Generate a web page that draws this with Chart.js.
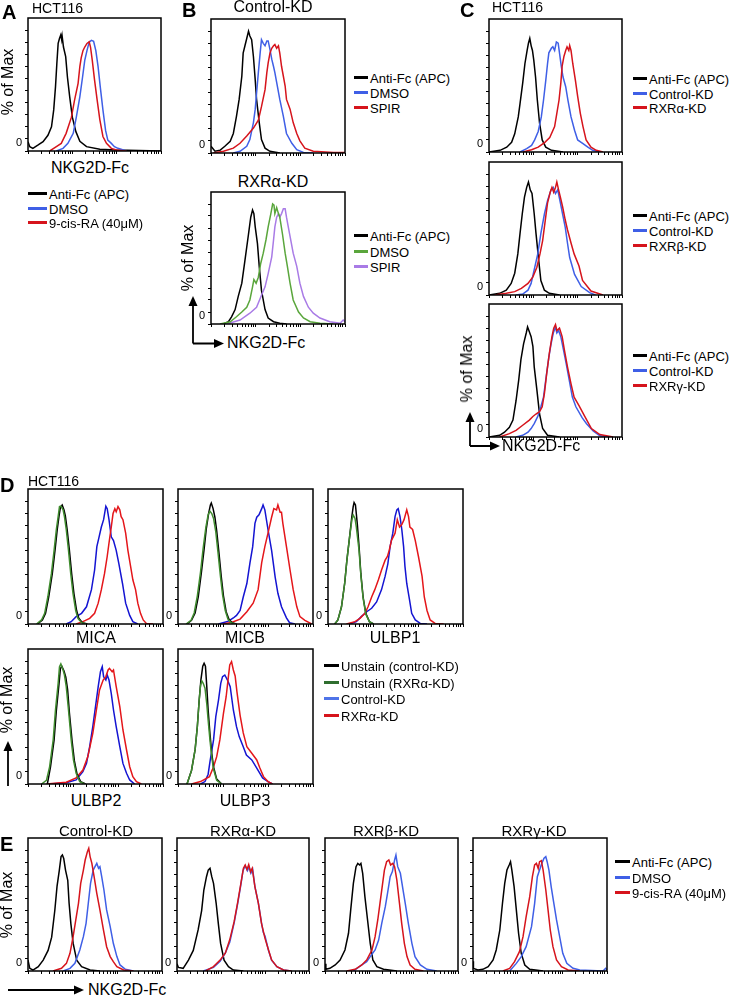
<!DOCTYPE html>
<html>
<head>
<meta charset="utf-8">
<script src="https://cdn.jsdelivr.net/npm/chart.js@4.4.0/dist/chart.umd.min.js"></script>
<style>
  body { margin: 0; background: #fff; font-family: "Liberation Sans", Arial, sans-serif; }
  #fig { position: relative; width: 730px; height: 996px; overflow: hidden; background: #fff; }
  .t { position: absolute; white-space: nowrap; color: #000; line-height: 1; }
  .b { font-weight: bold; }
  canvas { position: absolute; }
</style>
</head>
<body>
<div id="fig"></div>
<script>
// x = log decades of NKG2D-Fc / ligand intensity (0..3), y = % of Max
const yTicks = [0, 10, 20, 30, 40, 50, 60, 70, 80, 90, 100];

// --- panel A (HCT116, 9-cis-RA)
const A_antiFc = [[0,7.7],[0.04,3.6],[0.11,2.2],[0.23,5],[0.34,7.7],[0.45,13],[0.53,20],[0.58,34],[0.62,53],[0.65,72],[0.68,89],[0.71,93],[0.74,96],[0.76,92],[0.77,95],[0.8,86],[0.85,78],[0.89,61],[0.94,45],[1.0,28],[1.08,16],[1.17,8],[1.32,3.6],[1.62,1.4],[1.99,0.8],[3,0]];
const A_dmso = [[0.64,0],[0.79,2.2],[0.9,6.3],[1.02,14.6],[1.09,28],[1.17,45],[1.23,61],[1.28,75],[1.33,83],[1.38,90],[1.43,91.5],[1.48,90.7],[1.53,83],[1.58,70],[1.63,53],[1.69,34],[1.75,17],[1.8,9],[1.88,6.3],[1.95,3.6],[2.03,2.2],[2.22,0]];
const A_cisRA = [[0.49,0],[0.64,3.6],[0.75,6.3],[0.86,14.6],[0.98,28],[1.05,42],[1.13,56],[1.17,70],[1.2,77],[1.24,83],[1.28,86],[1.33,89],[1.38,90.4],[1.41,86],[1.45,75],[1.5,59],[1.56,42],[1.62,26],[1.69,12],[1.77,6.3],[1.88,2.2],[1.99,0.8],[2.22,0]];

// --- panel B (SPIR)
const B1_antiFc = [[0,5.5],[0.09,1.4],[0.2,2.2],[0.31,5.5],[0.43,9.6],[0.5,16],[0.57,30],[0.63,44],[0.69,63],[0.72,82],[0.76,88],[0.8,94],[0.84,100],[0.87,96],[0.91,93],[0.95,79],[0.99,60],[1.02,44],[1.08,25],[1.13,11],[1.21,4],[1.32,1.4],[1.54,0]];
const B1_dmso = [[0.5,0],[0.65,1.4],[0.8,5.5],[0.87,11],[0.95,25],[0.99,36],[1.02,49],[1.06,66],[1.1,82],[1.13,93],[1.17,90],[1.21,88],[1.25,92],[1.28,92],[1.32,85],[1.36,77],[1.4,71],[1.43,66],[1.47,58],[1.54,44],[1.62,30],[1.69,16],[1.81,8],[1.92,2.7],[2.07,0.5],[2.29,0]];
const B1_spir = [[0.05,0],[0.28,1.4],[0.5,4],[0.65,8],[0.8,14],[0.95,20.5],[1.06,27],[1.13,38],[1.21,52],[1.25,66],[1.28,74],[1.32,82],[1.36,86],[1.4,88],[1.43,89],[1.47,86],[1.51,88],[1.54,82],[1.58,71],[1.62,63],[1.66,55],[1.69,44],[1.77,36],[1.84,25],[1.92,16],[1.99,10],[2.1,4],[2.29,1.4],[2.74,0.5],[3,0.5]];
const B2_antiFc = [[0.28,0],[0.39,1.9],[0.46,6],[0.54,12],[0.61,23],[0.69,34],[0.76,53],[0.84,75],[0.89,89],[0.93,95],[0.96,92],[0.99,81],[1.04,67],[1.08,48],[1.13,28],[1.21,12],[1.28,5],[1.4,1.9],[1.54,0.6],[1.69,0]];
const B2_dmso = [[0.2,0],[0.43,1.9],[0.57,6],[0.69,10],[0.8,14],[0.87,20],[0.93,31],[0.96,37],[1.01,34],[1.06,39],[1.11,50],[1.17,59],[1.23,70],[1.28,81],[1.34,92],[1.38,100],[1.41,99],[1.43,92],[1.47,97],[1.51,92],[1.54,89],[1.6,75],[1.66,59],[1.71,48],[1.77,34],[1.84,20],[1.96,10],[2.07,5],[2.22,1.9],[2.44,0.6],[2.74,0]];
const B2_spir = [[0.35,0],[0.65,3.3],[0.87,9],[1.02,14],[1.13,24],[1.21,31],[1.28,42],[1.36,56],[1.4,70],[1.43,81],[1.47,89],[1.51,92],[1.54,89],[1.58,92],[1.62,96],[1.66,96],[1.69,89],[1.73,81],[1.77,73],[1.84,59],[1.92,48],[1.99,34],[2.07,23],[2.18,14],[2.29,9],[2.44,5],[2.66,1.9],[2.89,0.6],[2.96,3.3],[3,1.9]];

// --- panel C (RXR isotype knock-downs)
const C1_antiFc = [[0,0],[0.25,1.4],[0.4,4],[0.51,8],[0.58,15],[0.66,29],[0.7,40],[0.76,57],[0.81,73],[0.86,84],[0.89,90],[0.92,94],[0.95,88],[0.98,84],[1.01,76],[1.05,62],[1.09,43],[1.14,24],[1.2,10],[1.28,4],[1.41,1.4],[1.67,0]];
const C1_ctrl = [[0.7,0],[0.85,2.8],[0.96,5.5],[1.03,10],[1.11,17],[1.18,29],[1.23,43],[1.28,59],[1.32,73],[1.35,82],[1.41,86],[1.44,87],[1.48,84],[1.52,91],[1.56,90],[1.59,82],[1.63,71],[1.67,62],[1.73,54],[1.78,43],[1.85,29],[1.93,18],[2.0,10],[2.12,7],[2.23,4],[2.34,1.4],[2.49,0]];
const C1_rxra = [[0.77,0],[0.96,1.9],[1.11,4],[1.26,8],[1.37,12],[1.48,21],[1.53,32],[1.58,43],[1.62,57],[1.65,71],[1.69,79],[1.73,84],[1.76,87],[1.8,84],[1.82,88],[1.85,84],[1.89,73],[1.95,59],[2.0,46],[2.06,32],[2.12,21],[2.19,10],[2.3,4],[2.42,1.4],[2.57,0]];
const C2_antiFc = [[0,0],[0.24,1.4],[0.39,4],[0.5,9.6],[0.58,18],[0.65,34],[0.7,51],[0.75,67],[0.8,81],[0.85,89],[0.89,93.5],[0.93,87],[0.97,84],[1.02,67],[1.06,51],[1.12,29],[1.17,12],[1.25,4],[1.36,1.4],[1.59,0]];
const C2_ctrl = [[0.61,0],[0.76,0.8],[0.88,4],[0.95,9.6],[1.02,21],[1.1,34],[1.17,51],[1.25,67],[1.32,78],[1.4,87],[1.45,89],[1.5,84],[1.55,87],[1.6,78],[1.66,67],[1.72,56],[1.77,43],[1.82,31],[1.93,17],[2.08,7],[2.27,1.9],[2.4,0]];
const C2_rxrb = [[0.13,0],[0.39,1.4],[0.58,2.8],[0.73,5.5],[0.88,9.6],[0.99,15],[1.08,23],[1.15,34],[1.21,45],[1.27,62],[1.32,76],[1.38,85],[1.42,89],[1.46,85],[1.5,89],[1.53,93.5],[1.57,87],[1.61,81],[1.66,73],[1.72,62],[1.77,54],[1.85,43],[1.92,34],[2.03,24],[2.11,12],[2.3,3.3],[2.57,0]];
const C3_antiFc = [[0,0],[0.24,1.4],[0.35,4],[0.46,8],[0.54,14],[0.61,30],[0.67,47],[0.72,64],[0.78,77],[0.84,86],[0.87,91],[0.91,87],[0.95,83],[0.99,75],[1.02,58],[1.08,39],[1.14,19],[1.21,7],[1.32,1.4],[1.59,0]];
const C3_ctrl = [[0.61,0],[0.76,1.4],[0.88,4],[0.95,7],[1.02,11],[1.1,17],[1.17,25],[1.23,33],[1.29,50],[1.35,66],[1.4,77],[1.45,86],[1.5,91],[1.53,86],[1.57,88],[1.62,83],[1.68,72],[1.74,61],[1.81,47],[1.88,33],[1.96,25],[2.1,16],[2.2,11],[2.35,5],[2.5,1],[2.7,0]];
const C3_rxrg = [[0.24,0],[0.46,2.8],[0.61,5.5],[0.76,9.7],[0.91,14],[0.99,17],[1.06,19],[1.14,21],[1.2,25],[1.25,36],[1.3,52],[1.36,69],[1.42,83],[1.46,90],[1.5,93],[1.53,88],[1.59,90],[1.65,83],[1.7,72],[1.77,58],[1.85,44],[1.92,33],[2.03,26],[2.16,17],[2.31,7],[2.5,2],[2.8,0]];

// --- panel D (NKG2D ligands: MICA, MICB, ULBP1, ULBP2, ULBP3)
const D1_unCtrl = [[0.21,0],[0.32,3.3],[0.39,8.7],[0.46,22],[0.54,41],[0.6,60],[0.65,77],[0.69,88],[0.72,95],[0.76,97],[0.8,93],[0.83,88],[0.87,77],[0.92,60],[0.97,41],[1.02,25],[1.08,11],[1.13,4.6],[1.21,1.1],[1.32,0]];
const D1_unRxra = [[0.19,0],[0.3,3.3],[0.37,8.7],[0.44,22],[0.52,41],[0.58,60],[0.63,77],[0.67,87.5],[0.7,95.6],[0.73,96],[0.78,93],[0.81,87.5],[0.85,77],[0.9,60],[0.95,41],[1.0,25],[1.06,11],[1.11,4.6],[1.19,1.1],[1.3,0]];
const D1_ctrl = [[0.85,0],[0.96,1.9],[1.07,6],[1.19,8.7],[1.3,14],[1.41,28],[1.48,44],[1.53,63],[1.58,71],[1.63,79],[1.68,85],[1.73,96],[1.76,94],[1.8,85],[1.85,71],[1.9,68],[1.96,60],[2.02,49],[2.1,33],[2.17,17],[2.26,7],[2.33,1.9],[2.44,0]];
const D1_rxra = [[1.07,0],[1.22,1.9],[1.37,4.6],[1.48,8.7],[1.56,17],[1.63,28],[1.7,41],[1.76,55],[1.8,66],[1.85,79],[1.89,90],[1.93,94],[1.96,91.5],[2.0,95.6],[2.04,93],[2.07,87.5],[2.11,85],[2.17,74],[2.22,60],[2.28,47],[2.33,36],[2.39,28],[2.44,17],[2.5,8.7],[2.56,3.3],[2.63,0.5],[2.78,0]];
const D2_unCtrl = [[0.2,0],[0.3,3],[0.38,9],[0.45,22],[0.52,42],[0.58,61],[0.63,78],[0.68,90],[0.72,97],[0.74,98.6],[0.78,94],[0.82,87],[0.86,76],[0.91,58],[0.96,39],[1.01,23],[1.07,10],[1.13,4],[1.2,1],[1.3,0]];
const D2_unRxra = [[0.18,0],[0.29,3],[0.36,9],[0.43,23],[0.5,42],[0.56,62],[0.62,79],[0.67,89],[0.71,92],[0.75,90],[0.79,86],[0.84,75],[0.89,58],[0.94,40],[0.99,24],[1.05,11],[1.11,4],[1.18,1],[1.28,0]];
const D2_ctrl = [[0.9,0],[1.1,2],[1.23,4.9],[1.3,7],[1.38,11],[1.45,22],[1.53,33],[1.6,50],[1.66,63],[1.71,82],[1.75,87],[1.8,89],[1.86,94],[1.89,97],[1.93,93],[2.0,77],[2.08,60],[2.16,38],[2.22,25],[2.3,14],[2.41,5],[2.48,1],[2.6,0]];
const D2_rxra = [[1.0,0],[1.2,1.5],[1.38,4],[1.53,10],[1.67,17],[1.78,28],[1.86,50],[1.93,63],[2.0,74],[2.08,87],[2.13,94],[2.19,93],[2.22,97],[2.27,91],[2.3,91],[2.33,82],[2.41,63],[2.49,44],[2.56,28],[2.64,14],[2.71,6],[2.82,3],[2.97,0]];
const D3_unCtrl = [[0.15,0],[0.22,3.3],[0.3,14],[0.37,33],[0.42,52],[0.48,71],[0.53,87.5],[0.56,95.6],[0.58,99],[0.61,97],[0.65,82],[0.69,63],[0.73,41],[0.78,22],[0.84,8.7],[0.92,1.9],[1.01,0]];
const D3_unRxra = [[0.15,0],[0.22,3.3],[0.3,14],[0.37,33],[0.42,52],[0.48,71],[0.53,84.7],[0.56,88.8],[0.6,86],[0.63,79],[0.69,60],[0.73,40],[0.78,21],[0.84,8],[0.92,1.9],[1.01,0]];
const D3_ctrl = [[0.48,0],[0.63,1.9],[0.74,6],[0.86,10],[0.97,12.8],[1.08,18],[1.19,28],[1.27,39],[1.33,49],[1.38,63],[1.44,74],[1.49,87.5],[1.53,93],[1.56,94],[1.6,87.5],[1.64,77],[1.68,63],[1.71,47],[1.75,33],[1.81,20],[1.86,8.7],[1.94,3.3],[2.05,0.5],[2.2,0]];
const D3_rxra = [[0.41,0],[0.6,1.9],[0.71,4.6],[0.82,8.7],[0.89,14],[0.97,22],[1.04,28],[1.12,36],[1.19,44],[1.27,52],[1.32,55],[1.36,60],[1.41,68],[1.49,74],[1.54,85],[1.59,79],[1.64,81],[1.69,85],[1.75,93],[1.79,87.5],[1.82,79],[1.88,77],[1.94,68],[2.01,55],[2.09,39],[2.14,22],[2.2,11],[2.27,3.3],[2.38,0.5],[2.57,0]];
const D4_unCtrl = [[0.43,0],[0.5,14],[0.58,36],[0.63,60],[0.69,82],[0.72,94],[0.75,96],[0.8,92],[0.84,87],[0.88,77],[0.92,58],[0.98,35],[1.03,19],[1.09,8],[1.17,1.9],[1.28,0]];
const D4_unRxra = [[0.3,0],[0.41,3],[0.48,14],[0.56,36],[0.61,60],[0.67,82],[0.7,95.6],[0.73,97.8],[0.78,92.9],[0.81,88.8],[0.85,79.3],[0.9,60.3],[0.96,35.9],[1.01,19.6],[1.07,8.7],[1.15,1.9],[1.26,0]];
const D4_ctrl = [[0.48,0],[0.85,1.1],[1.07,3.3],[1.22,10],[1.3,16.8],[1.37,30.4],[1.44,46.7],[1.5,63],[1.56,79.3],[1.61,91.5],[1.65,95.6],[1.68,87.5],[1.73,84.7],[1.76,88.8],[1.8,84.7],[1.85,73.9],[1.9,60.3],[1.96,46.7],[2.04,30.4],[2.11,16.8],[2.19,8.7],[2.26,3.3],[2.37,0]];
const D4_rxra = [[0.41,0],[0.85,1.5],[1.07,5],[1.22,11.4],[1.33,22.3],[1.44,41.3],[1.52,60.3],[1.59,76.6],[1.67,84.7],[1.73,87.5],[1.78,92.9],[1.81,94.2],[1.87,91.5],[1.9,92.9],[1.96,79.3],[2.04,63],[2.11,44],[2.19,27.7],[2.26,14.1],[2.33,6],[2.41,1.9],[2.52,0]];
const D5_unCtrl = [[0.2,0],[0.3,11],[0.38,28],[0.43,47],[0.47,68],[0.51,85],[0.55,96],[0.58,98.3],[0.61,96],[0.64,79],[0.67,60],[0.71,41],[0.75,25],[0.79,14],[0.86,4],[0.97,0]];
const D5_unRxra = [[0.2,0],[0.3,11],[0.38,28],[0.43,47],[0.47,68],[0.5,80],[0.53,84],[0.56,82],[0.6,78],[0.64,65],[0.67,52],[0.71,36],[0.75,22],[0.79,12],[0.86,3],[0.97,0]];
const D5_ctrl = [[0.5,0],[0.6,2],[0.67,8],[0.71,18],[0.79,35.9],[0.84,54.9],[0.9,68.4],[0.95,82],[0.99,87.5],[1.04,88.8],[1.1,84.7],[1.16,79.3],[1.23,60.3],[1.3,46.7],[1.36,38.6],[1.45,30.4],[1.52,23.6],[1.64,19.6],[1.75,13],[1.88,5],[2.0,2],[2.1,0]];
const D5_rxra = [[0.3,0],[0.5,2],[0.7,6],[0.79,14],[0.86,22.3],[0.93,35.9],[1.01,57.6],[1.07,71.1],[1.12,87.5],[1.15,97],[1.19,99.7],[1.23,92.9],[1.27,88],[1.31,75],[1.38,56],[1.45,41.6],[1.53,30.4],[1.64,25],[1.75,19.6],[1.82,13],[1.9,6],[2.0,2],[2.1,0]];

// --- panel E (9-cis-RA in knock-down lines)
const E1_antiFc = [[0,9],[0.04,2.2],[0.11,0.8],[0.23,3.6],[0.34,9],[0.45,17],[0.53,28],[0.6,50],[0.65,70],[0.7,83],[0.74,94.6],[0.77,96],[0.8,93],[0.84,83.5],[0.89,75],[0.92,56],[0.96,39],[1.01,23],[1.09,9],[1.2,3.6],[1.39,0.8],[1.61,0]];
const E1_dmso = [[0.79,0],[0.94,2.2],[1.05,6.3],[1.16,17.4],[1.24,28.4],[1.3,39.4],[1.35,56],[1.4,72.5],[1.46,83.5],[1.5,86.3],[1.54,89],[1.58,85],[1.61,86.3],[1.65,78],[1.7,67],[1.76,50.5],[1.84,36.7],[1.91,22.9],[1.99,11.9],[2.06,5],[2.18,1.4],[2.36,0]];
const E1_cisRA = [[0.56,0],[0.75,2.2],[0.86,6.3],[0.94,14.6],[1.01,28.4],[1.07,42.2],[1.13,56],[1.18,72.5],[1.24,83.5],[1.28,91.8],[1.33,98.7],[1.36,101.5],[1.39,94.6],[1.43,89],[1.48,78],[1.54,64.2],[1.61,50.5],[1.69,33.9],[1.76,20.1],[1.84,11.9],[1.91,7.7],[1.99,3.6],[2.14,0.8],[2.36,0]];
const E2_antiFc = [[0,6],[0.03,3],[0.14,2.2],[0.26,9],[0.37,17],[0.48,34],[0.56,50],[0.61,67],[0.67,78],[0.71,83.5],[0.75,85],[0.79,78],[0.83,72.5],[0.89,56],[0.94,39],[0.99,23],[1.07,9],[1.17,3.6],[1.28,0.8],[1.51,0]];
const E2_dmso = [[0.6,0],[0.83,3],[0.98,8],[1.1,15],[1.2,24],[1.3,40],[1.38,56],[1.45,71],[1.5,83],[1.55,87],[1.6,83],[1.64,86],[1.68,81],[1.72,84],[1.77,70],[1.85,56],[1.92,40],[1.96,32],[2.0,29],[2.08,17],[2.15,9],[2.27,3.6],[2.42,0.8],[2.6,0]];
const E2_cisRA = [[0.65,0],[0.83,3.6],[0.98,9],[1.1,15],[1.2,26],[1.3,41],[1.38,57],[1.45,72],[1.51,85],[1.55,87.7],[1.59,84],[1.63,88],[1.67,82],[1.71,85],[1.77,69.8],[1.85,56],[1.92,39.4],[2.0,27],[2.08,17.4],[2.15,9.1],[2.27,3.6],[2.42,0.8],[2.6,0]];
const E3_antiFc = [[0,6],[0.02,1.4],[0.11,2.2],[0.23,5],[0.34,9.1],[0.45,17.4],[0.53,31.2],[0.58,50.5],[0.64,72.5],[0.7,86.3],[0.74,89],[0.78,87.7],[0.81,89],[0.85,80.8],[0.9,61.5],[0.96,42.2],[1.02,22.9],[1.08,9.1],[1.17,3.6],[1.32,1.4],[1.62,0]];
const E3_dmso = [[0.64,0],[0.83,5],[0.94,7.7],[1.02,11.9],[1.13,17.4],[1.21,25.6],[1.28,39.4],[1.36,53.2],[1.41,64.2],[1.47,78],[1.52,82.2],[1.57,91.8],[1.6,95.9],[1.64,86.3],[1.7,80.8],[1.76,67],[1.81,56],[1.88,39.4],[1.96,22.9],[2.03,11.9],[2.15,5],[2.3,1.4],[2.52,0]];
const E3_cisRA = [[0.49,0],[0.68,1.4],[0.83,5],[0.94,9.1],[1.06,17.4],[1.13,28.4],[1.19,42.2],[1.24,56],[1.3,72.5],[1.34,83.5],[1.39,90.4],[1.44,91.8],[1.48,87.7],[1.53,89],[1.57,86.3],[1.62,75.3],[1.68,56],[1.73,39.4],[1.79,22.9],[1.85,11.9],[1.92,5],[2.03,1.4],[2.22,0]];
const E4_antiFc = [[0,8],[0.01,2.2],[0.11,0.8],[0.22,1.4],[0.34,3.6],[0.45,9.1],[0.52,17.4],[0.6,33.9],[0.66,56],[0.71,72.5],[0.76,83.5],[0.81,87.7],[0.84,90.4],[0.87,83.5],[0.92,69.8],[0.97,50.5],[1.02,31.2],[1.08,14.6],[1.16,5],[1.27,1.4],[1.57,0]];
const E4_dmso = [[0.82,0],[0.97,6.3],[1.08,11.9],[1.19,20.1],[1.31,36.7],[1.38,56],[1.44,78],[1.49,83.5],[1.54,89],[1.59,93.2],[1.63,94.6],[1.66,90.4],[1.7,83.5],[1.75,69.8],[1.81,56],[1.87,42.2],[1.94,28.4],[2.01,14.6],[2.1,6.3],[2.24,2.2],[2.39,0.8],[2.91,0],[2.97,2.2],[3,1]];
const E4_cisRA = [[0.67,0],[0.82,2.2],[0.93,7.7],[1.04,16],[1.12,28.4],[1.19,45],[1.27,61.5],[1.33,78],[1.38,87.7],[1.42,89],[1.46,84.9],[1.49,90.4],[1.53,91.3],[1.57,83.5],[1.63,67],[1.68,50.5],[1.73,33.9],[1.79,20.1],[1.87,9.1],[1.98,3.6],[2.13,0.8],[2.39,0]];

// legend labels
const legA = ['Anti-Fc (APC)', 'DMSO', '9-cis-RA (40\u03bcM)'];
const legB = ['Anti-Fc (APC)', 'DMSO', 'SPIR'];
const legC1 = ['Anti-Fc (APC)', 'Control-KD', 'RXR\u03b1-KD'];
const legC2 = ['Anti-Fc (APC)', 'Control-KD', 'RXR\u03b2-KD'];
const legC3 = ['Anti-Fc (APC)', 'Control-KD', 'RXR\u03b3-KD'];
const legD = ['Unstain (control-KD)', 'Unstain (RXR\u03b1-KD)', 'Control-KD', 'RXR\u03b1-KD'];

const BLACK = '#000', BLUE = '#3f5fe6', RED = '#d6141c', GREEN = '#5aa63c', PURPLE = '#a97be6';
const DBLUE = '#1414d2', DGREEN = '#3f8c2e', DRED = '#e4161a';

// log-decade tick marks on the x axis
const decadeTicks = [];
for (let d = 0; d < 3; d++) for (let k = 1; k < 10; k++) decadeTicks.push(d + Math.log10(k));
decadeTicks.push(3);

const fig = document.getElementById('fig');
const FONT = '"Liberation Sans", Arial, sans-serif';
Chart.defaults.font.family = FONT;

// plot boxes [left, top, right, bottom] and curves (first drawn on top)
const panels = [
  { box: [28, 18, 161, 151], series: [[A_cisRA, RED], [A_dmso, BLUE], [A_antiFc, BLACK]] },
  { box: [211, 19, 345, 153], series: [[B1_spir, RED], [B1_dmso, BLUE], [B1_antiFc, BLACK]] },
  { box: [211, 192, 345, 324], series: [[B2_dmso, GREEN], [B2_spir, PURPLE], [B2_antiFc, BLACK]] },
  { box: [489, 19, 622, 152], series: [[C1_rxra, RED], [C1_ctrl, BLUE], [C1_antiFc, BLACK]] },
  { box: [489, 162, 622, 295], series: [[C2_rxrb, RED], [C2_ctrl, BLUE], [C2_antiFc, BLACK]] },
  { box: [489, 304, 622, 437], series: [[C3_rxrg, RED], [C3_ctrl, BLUE], [C3_antiFc, BLACK]] },
  { box: [28, 489, 163, 624], series: [[D1_unRxra, DGREEN], [D1_unCtrl, BLACK], [D1_rxra, DRED], [D1_ctrl, DBLUE]] },
  { box: [178, 489, 313, 624], series: [[D2_unRxra, DGREEN], [D2_unCtrl, BLACK], [D2_rxra, DRED], [D2_ctrl, DBLUE]] },
  { box: [328, 489, 463, 624], series: [[D3_unRxra, DGREEN], [D3_unCtrl, BLACK], [D3_rxra, DRED], [D3_ctrl, DBLUE]] },
  { box: [28, 649, 163, 784], series: [[D4_unRxra, DGREEN], [D4_unCtrl, BLACK], [D4_rxra, DRED], [D4_ctrl, DBLUE]] },
  { box: [178, 649, 313, 784], series: [[D5_unRxra, DGREEN], [D5_unCtrl, BLACK], [D5_rxra, DRED], [D5_ctrl, DBLUE]] },
  { box: [28, 838, 162, 971], series: [[E1_cisRA, RED], [E1_dmso, BLUE], [E1_antiFc, BLACK]] },
  { box: [177, 838, 309, 971], series: [[E2_cisRA, RED], [E2_dmso, BLUE], [E2_antiFc, BLACK]] },
  { box: [325, 838, 458, 971], series: [[E3_cisRA, RED], [E3_dmso, BLUE], [E3_antiFc, BLACK]] },
  { box: [473, 838, 607, 971], series: [[E4_cisRA, RED], [E4_dmso, BLUE], [E4_antiFc, BLACK]] },
];

// box around the plot area
const framePlugin = {
  id: 'frame',
  afterDraw(chart) {
    const { ctx, chartArea: a } = chart;
    ctx.save();
    ctx.strokeStyle = '#000';
    ctx.lineWidth = 1.5;
    ctx.strokeRect(a.left, a.top, a.right - a.left, a.bottom - a.top);
    ctx.restore();
  }
};

const AXW = 22, AXH = 6, PADT = 2, PADR = 2;

panels.forEach(p => {
  const [l, t, r, b] = p.box;
  const cv = document.createElement('canvas');
  cv.width = r - l + AXW + PADR;
  cv.height = b - t + AXH + PADT;
  cv.style.left = (l - AXW) + 'px';
  cv.style.top = (t - PADT) + 'px';
  fig.appendChild(cv);

  new Chart(cv, {
    type: 'line',
    data: {
      datasets: p.series.map(([pts, col]) => ({
        data: pts.map(([x, y]) => ({ x, y })),
        borderColor: col,
        borderWidth: 1.5,
        pointRadius: 0,
        tension: 0,
        fill: false
      }))
    },
    options: {
      responsive: false,
      animation: false,
      events: [],
      layout: { padding: { top: PADT, right: PADR, left: 0, bottom: 0 } },
      plugins: { legend: { display: false }, tooltip: { enabled: false } },
      scales: {
        x: {
          type: 'linear', min: 0, max: 3,
          afterBuildTicks: s => { s.ticks = decadeTicks.map(v => ({ value: v })); },
          afterFit: s => { s.height = AXH; s.paddingLeft = 0; s.paddingRight = 0; },
          grid: { drawOnChartArea: false, drawTicks: true, tickLength: 3, tickColor: '#000', tickWidth: 1 },
          border: { display: false },
          ticks: { display: false }
        },
        y: {
          type: 'linear', min: 0, max: 110,
          afterBuildTicks: s => { s.ticks = yTicks.map(v => ({ value: v })); },
          afterFit: s => { s.width = AXW; s.paddingTop = 0; s.paddingBottom = 0; },
          grid: { drawOnChartArea: false, drawTicks: true, tickLength: 3, tickColor: '#000', tickWidth: 1 },
          border: { display: false },
          ticks: {
            autoSkip: false,
            callback: v => (v === 0 ? '0' : ''),
            color: '#000', font: { size: 11 }, padding: 3, labelOffset: -8
          }
        }
      }
    },
    plugins: [framePlugin]
  });
});

// text helpers
function put(str, x, y, size, opt = {}) {
  const d = document.createElement('div');
  d.className = 't' + (opt.bold ? ' b' : '');
  d.textContent = str;
  d.style.fontSize = size + 'px';
  d.style.left = x + 'px';
  d.style.top = y + 'px';
  let tf = opt.center ? 'translate(-50%,-50%)' : 'translateY(-50%)';
  if (opt.rotate) tf = 'translate(-50%,-50%) rotate(-90deg)';
  d.style.transform = tf;
  fig.appendChild(d);
}
function legend(x, y0, dy, lineW, labels, colors, size = 13) {
  labels.forEach((lab, i) => {
    const y = Math.round(y0 + i * dy);
    const ln = document.createElement('div');
    ln.style.cssText = `position:absolute;left:${x}px;top:${y - 1}px;width:${lineW}px;height:3px;background:${colors[i]}`;
    fig.appendChild(ln);
    put(lab, x + lineW + 2, y + 0.5, size);
  });
}

// panel letters
put('A', 2, 12, 20, { bold: true });
put('B', 182, 10, 20, { bold: true });
put('C', 460, 10, 20, { bold: true });
put('D', 0, 485, 20, { bold: true });
put('E', 0, 844, 20, { bold: true });

// titles
put('HCT116', 32, 8, 14);
put('Control-KD', 273, 7, 16, { center: true });
put('RXR\u03b1-KD', 273, 182, 16, { center: true });
put('HCT116', 492, 7, 14);
put('HCT116', 28, 481, 14);
put('Control-KD', 96, 830, 15, { center: true });
put('RXR\u03b1-KD', 243, 830, 15, { center: true });
put('RXR\u03b2-KD', 386, 830, 15, { center: true });
put('RXR\u03b3-KD', 534, 830, 15, { center: true });

// axis labels
put('NKG2D-Fc', 90, 168, 16, { center: true });
put('% of Max', 8, 82, 16, { rotate: true });
put('% of Max', 188, 258, 16, { rotate: true });
put('NKG2D-Fc', 227, 343, 16);
put('% of Max', 467, 369, 16, { rotate: true });
put('NKG2D-Fc', 502, 446, 16);
put('% of Max', 7, 700, 16, { rotate: true });
put('% of Max', 7, 905, 16, { rotate: true });
put('NKG2D-Fc', 88, 990, 16);

// ligand names under D plots
put('MICA', 96, 638, 16, { center: true });
put('MICB', 245, 638, 16, { center: true });
put('ULBP1', 395, 638, 16, { center: true });
put('ULBP2', 96, 801, 16, { center: true });
put('ULBP3', 245, 801, 16, { center: true });

// legends
legend(28, 193, 14.5, 19, legA, [BLACK, BLUE, RED]);
legend(354, 77, 15, 14, legB, [BLACK, BLUE, RED]);
legend(354, 235, 15.5, 14, legB, [BLACK, GREEN, PURPLE]);
legend(633, 78, 14.5, 14, legC1, [BLACK, BLUE, RED]);
legend(633, 215, 15, 14, legC2, [BLACK, BLUE, RED]);
legend(633, 355, 15, 14, legC3, [BLACK, BLUE, RED]);
legend(324, 665, 16.7, 15, legD, [BLACK, '#2f6e2f', '#4f74e8', RED]);
legend(615, 861, 15.5, 15, legA, [BLACK, BLUE, RED]);

// axis arrows
const svgNS = 'http://www.w3.org/2000/svg';
const svg = document.createElementNS(svgNS, 'svg');
svg.setAttribute('width', 730);
svg.setAttribute('height', 996);
svg.style.cssText = 'position:absolute;left:0;top:0';
svg.innerHTML = `
  <g stroke="#000" stroke-width="1.8" fill="none">
    <path d="M193 343.5 V305 M193 343.5 H215"/>
    <path d="M470 446 V421 M470 446 H490"/>
    <path d="M8 786 V750"/>
    <path d="M8 990 H74"/>
  </g>
  <g fill="#000">
    <polygon points="193,296 188.5,306 197.5,306"/>
    <polygon points="224,343.5 214,339 214,348"/>
    <polygon points="470,412 465.5,422 474.5,422"/>
    <polygon points="500,446 490,441.5 490,450.5"/>
    <polygon points="8,741 3.5,751 12.5,751"/>
    <polygon points="84,990 74,985.5 74,994.5"/>
  </g>`;
fig.appendChild(svg);
</script>
</body>
</html>
